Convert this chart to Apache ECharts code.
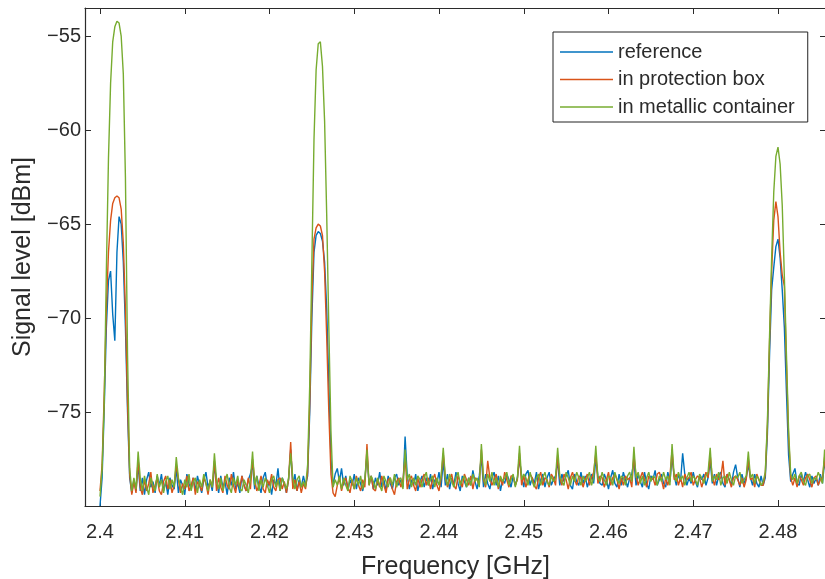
<!DOCTYPE html>
<html>
<head>
<meta charset="utf-8">
<script src="https://cdn.jsdelivr.net/npm/echarts@6/dist/echarts.min.js"></script>
<style>
  html, body { margin: 0; padding: 0; background: #ffffff; }
  #chart { width: 825px; height: 579px; }
</style>
</head>
<body>
<div id="chart"></div>
<script>
// Spectrum sweep: one level reading every 0.25 MHz starting at 2.4 GHz
const seriesNames = ['reference', 'in protection box', 'in metallic container'];
const freqStartGHz = 2.4;
const freqStepGHz = 0.00025;

const xTickValues = [2.40, 2.41, 2.42, 2.43, 2.44, 2.45, 2.46, 2.47, 2.48];
const yTickValues = [-75, -70, -65, -60, -55];

// Signal level [dBm], reference measurement
const reference = [
  -80.0,-78.5,-74.8,-70.5,-68.0,-67.5,-69.8,-71.2,-66.5,-64.6,-65.0,-67.0,-70.5,-75.0,-78.5,-79.3,-78.6,-79.2,
  -77.8,-79.2,-78.5,-79.4,-78.6,-78.2,-79.0,-78.7,-79.3,-78.4,-78.9,-78.3,-79.2,-78.7,-79.4,-78.5,-78.9,-79.1,
  -78.0,-79.3,-78.6,-78.9,-79.4,-78.3,-78.8,-79.1,-78.5,-79.2,-78.4,-78.9,-79.3,-78.6,-78.2,-79.0,-78.7,-79.2,
  -77.9,-78.6,-79.3,-78.4,-79.0,-78.7,-79.4,-78.5,-78.9,-78.2,-79.1,-78.8,-79.3,-78.4,-78.9,-79.2,-78.6,-78.3,
  -77.8,-79.1,-78.4,-78.9,-79.3,-78.5,-78.2,-79.0,-78.7,-79.4,-78.6,-78.9,-78.0,-79.2,-78.5,-78.8,-79.3,-78.6,
  -77.0,-78.9,-78.3,-79.2,-78.6,-79.0,-78.4,-78.9,-78.4,-75.0,-70.0,-66.5,-65.6,-65.4,-65.5,-65.9,-67.0,-69.5,
  -73.5,-77.5,-78.9,-78.3,-78.0,-78.7,-78.0,-78.9,-78.4,-79.2,-78.6,-78.9,-78.3,-79.1,-78.5,-78.8,-79.2,-78.6,
  -77.3,-78.8,-78.4,-79.1,-78.5,-78.9,-78.2,-79.0,-78.6,-79.2,-78.4,-78.8,-79.1,-78.5,-78.3,-78.9,-78.6,-79.0,
  -76.3,-78.4,-79.1,-78.6,-78.9,-78.3,-79.2,-78.7,-78.4,-79.0,-78.5,-78.9,-78.3,-79.1,-78.6,-78.8,-78.2,-79.0,
  -77.6,-78.9,-78.3,-79.1,-78.5,-78.9,-78.2,-78.8,-79.2,-78.4,-78.7,-79.0,-78.5,-78.9,-78.1,-78.7,-79.1,-78.4,
  -77.4,-79.0,-78.3,-78.8,-79.1,-78.5,-78.2,-78.9,-78.4,-79.2,-78.6,-78.8,-78.3,-78.6,-79.0,-78.4,-78.9,-78.5,
  -77.5,-78.4,-79.0,-78.3,-78.1,-78.9,-78.5,-78.8,-78.2,-79.1,-78.6,-78.3,-79.0,-78.5,-78.2,-78.9,-78.6,-78.4,
  -77.6,-78.9,-78.3,-78.7,-78.4,-78.1,-78.9,-79.1,-78.3,-78.7,-78.9,-78.2,-78.8,-78.4,-79.0,-78.6,-78.3,-78.8,
  -77.5,-78.4,-78.8,-78.9,-78.3,-78.6,-79.1,-78.5,-78.1,-78.8,-79.0,-78.3,-78.9,-78.2,-78.6,-79.0,-78.5,-78.3,
  -77.6,-78.9,-78.3,-78.7,-79.0,-78.2,-78.8,-79.1,-78.4,-78.6,-78.1,-78.9,-78.6,-78.3,-78.8,-79.0,-78.2,-78.7,
  -77.4,-78.4,-78.9,-78.3,-78.7,-77.2,-78.3,-78.9,-78.5,-78.8,-78.2,-78.7,-79.0,-78.4,-78.6,-78.3,-78.9,-78.5,
  -77.6,-78.8,-78.3,-78.9,-78.4,-78.2,-78.8,-79.0,-78.3,-78.6,-78.9,-78.2,-77.8,-78.5,-79.0,-78.3,-78.8,-78.5,
  -77.8,-78.5,-78.9,-78.3,-78.8,-79.0,-78.4,-78.9,-78.5,-76.2,-72.0,-68.5,-67.3,-66.2,-65.8,-66.8,-68.5,-70.5,
  -74.0,-77.3,-78.7,-78.3,-78.0,-78.8,-78.9,-78.3,-78.7,-78.2,-78.6,-79.0,-78.4,-78.8,-78.5,-78.9,-78.3,-78.8,
  -77.6,-78.5
];

// Signal level [dBm], device inside the protection box
const protectionBox = [
  -79.2,-77.8,-74.0,-69.5,-66.5,-64.8,-63.9,-63.6,-63.5,-63.6,-64.2,-66.0,-69.5,-74.5,-78.3,-79.4,-78.7,-79.3,
  -77.5,-79.0,-79.4,-78.6,-79.2,-78.8,-78.2,-79.3,-78.9,-78.5,-79.2,-79.4,-78.7,-78.4,-79.1,-78.6,-79.3,-78.9,
  -77.8,-78.6,-79.3,-78.8,-79.1,-78.4,-79.2,-78.9,-78.5,-79.4,-78.7,-78.9,-79.2,-78.5,-78.8,-79.4,-78.6,-79.0,
  -77.6,-79.2,-78.5,-79.0,-79.3,-78.4,-78.9,-79.1,-78.3,-78.9,-79.3,-78.6,-79.0,-78.4,-78.9,-79.2,-78.5,-79.1,
  -77.5,-78.6,-79.2,-78.9,-78.4,-79.1,-79.3,-78.6,-78.9,-78.3,-79.0,-79.2,-78.6,-78.5,-79.1,-78.7,-79.3,-78.6,
  -76.6,-79.1,-78.6,-79.2,-78.7,-79.3,-78.8,-79.1,-78.2,-74.5,-69.0,-65.8,-65.2,-65.0,-65.1,-65.6,-67.5,-71.0,
  -75.0,-78.3,-79.3,-79.5,-78.9,-78.5,-79.2,-78.7,-78.5,-79.0,-79.3,-78.6,-79.1,-78.4,-78.9,-79.2,-78.6,-79.0,
  -76.7,-78.9,-78.4,-79.1,-79.2,-78.6,-79.0,-78.4,-78.9,-79.3,-78.6,-78.5,-79.1,-79.4,-78.7,-78.5,-79.0,-78.6,
  -77.4,-79.1,-78.6,-78.4,-78.9,-79.2,-78.5,-79.0,-78.6,-78.3,-78.9,-78.5,-79.1,-78.6,-78.3,-78.9,-79.2,-78.5,
  -77.2,-78.5,-79.0,-78.6,-78.3,-78.9,-79.1,-78.4,-78.7,-79.0,-78.3,-78.6,-78.9,-78.4,-79.1,-78.5,-78.6,-78.9,
  -77.0,-78.6,-79.0,-77.6,-78.5,-78.9,-78.6,-78.3,-79.1,-78.5,-78.9,-78.2,-78.6,-79.0,-78.4,-78.4,-78.9,-78.6,
  -77.2,-78.9,-78.4,-79.0,-78.6,-78.3,-78.5,-78.9,-79.1,-78.5,-78.2,-78.9,-78.5,-78.6,-79.0,-78.3,-78.5,-78.9,
  -77.3,-78.5,-78.9,-78.3,-78.6,-79.1,-78.5,-78.2,-78.6,-78.9,-78.4,-78.5,-79.0,-78.6,-78.3,-78.9,-78.5,-78.2,
  -77.2,-78.8,-78.4,-78.5,-79.0,-78.6,-78.2,-78.9,-78.5,-78.3,-78.6,-79.1,-78.5,-78.9,-78.4,-78.6,-78.5,-79.0,
  -77.3,-78.4,-78.9,-78.5,-78.2,-78.6,-79.0,-78.4,-78.6,-78.5,-78.9,-78.3,-78.2,-78.6,-79.1,-78.5,-78.9,-78.4,
  -77.0,-78.6,-78.3,-78.9,-78.5,-79.0,-78.3,-78.6,-78.5,-78.2,-78.9,-78.6,-78.4,-78.5,-79.0,-78.6,-78.2,-78.5,
  -77.3,-78.5,-78.9,-78.3,-78.6,-78.5,-77.6,-78.9,-78.3,-78.6,-79.0,-78.5,-78.4,-78.6,-78.9,-78.5,-79.0,-78.6,
  -77.5,-78.6,-78.5,-79.0,-78.3,-78.6,-78.9,-78.9,-78.3,-75.8,-71.3,-67.5,-64.8,-63.8,-64.6,-66.5,-67.7,-68.3,
  -72.5,-76.3,-78.5,-78.9,-78.5,-79.0,-78.4,-78.6,-78.9,-78.5,-78.3,-78.6,-79.0,-78.5,-78.4,-78.9,-78.6,-78.5,
  -77.4,-78.8
];

// Signal level [dBm], device inside the metallic container
const metallicContainer = [
  -79.5,-78.0,-74.5,-67.5,-61.5,-57.5,-55.3,-54.5,-54.2,-54.3,-55.0,-57.0,-62.5,-72.0,-78.0,-79.2,-78.5,-79.1,
  -77.1,-78.5,-79.2,-78.4,-79.0,-79.4,-78.5,-78.9,-79.2,-78.3,-79.0,-78.6,-79.3,-78.7,-78.4,-79.1,-78.6,-79.0,
  -77.4,-78.5,-79.0,-79.4,-78.6,-79.0,-78.3,-79.2,-78.7,-78.5,-79.3,-78.6,-79.0,-78.3,-78.8,-79.2,-78.6,-79.0,
  -77.2,-78.6,-79.1,-78.5,-79.2,-78.7,-78.3,-79.0,-79.3,-78.5,-78.9,-78.4,-79.1,-79.2,-78.6,-78.9,-79.3,-78.6,
  -77.1,-78.9,-78.4,-79.2,-78.6,-79.0,-78.5,-78.9,-79.3,-78.6,-78.4,-79.0,-78.6,-79.2,-78.5,-78.8,-79.1,-78.5,
  -77.2,-78.5,-79.1,-78.6,-78.4,-79.0,-78.7,-79.0,-77.8,-73.5,-67.0,-60.5,-56.8,-55.4,-55.3,-56.6,-59.5,-64.5,
  -70.5,-76.0,-79.0,-78.6,-78.9,-78.4,-79.1,-78.5,-78.9,-79.2,-78.4,-78.7,-79.1,-78.5,-78.9,-78.4,-79.1,-78.6,
  -77.0,-78.9,-78.4,-78.7,-79.1,-78.5,-78.9,-79.2,-78.4,-78.7,-79.0,-78.5,-78.9,-78.3,-79.0,-78.6,-78.5,-79.1,
  -77.0,-78.6,-78.3,-79.0,-78.5,-78.9,-78.4,-78.6,-79.0,-78.5,-78.2,-78.9,-78.6,-78.4,-79.0,-78.5,-78.9,-78.4,
  -76.9,-78.5,-78.9,-78.3,-78.7,-79.0,-78.5,-78.2,-78.9,-78.6,-78.4,-79.0,-78.5,-78.9,-78.3,-78.7,-78.5,-79.0,
  -76.7,-78.5,-78.9,-78.3,-78.7,-78.2,-78.9,-78.5,-79.0,-78.4,-78.7,-78.5,-78.2,-78.9,-78.6,-78.3,-79.0,-78.5,
  -76.8,-78.6,-78.3,-78.5,-78.9,-78.2,-78.7,-79.0,-78.5,-78.3,-78.9,-78.5,-78.2,-78.7,-78.9,-78.4,-78.7,-78.5,
  -76.9,-78.4,-78.7,-78.9,-78.2,-78.5,-78.9,-78.4,-78.7,-78.2,-78.5,-78.9,-78.4,-78.7,-78.5,-78.2,-78.9,-78.5,
  -76.8,-78.5,-78.7,-78.2,-78.6,-78.9,-78.4,-78.5,-78.9,-78.2,-78.6,-78.8,-78.4,-78.5,-78.9,-78.4,-78.2,-78.7,
  -76.85,-78.5,-78.2,-78.8,-78.4,-78.9,-78.5,-78.2,-78.7,-78.4,-78.5,-78.9,-78.4,-78.7,-78.2,-78.6,-78.4,-78.9,
  -76.7,-78.4,-78.7,-78.2,-78.6,-78.4,-78.9,-78.5,-78.2,-78.7,-78.4,-78.6,-78.9,-78.3,-78.5,-78.8,-78.4,-78.2,
  -76.9,-78.7,-78.4,-78.6,-78.2,-78.9,-78.5,-78.4,-78.8,-78.2,-78.6,-78.9,-78.4,-78.5,-78.2,-78.8,-78.6,-78.4,
  -77.1,-78.5,-78.3,-78.8,-78.4,-78.6,-78.9,-78.7,-78.2,-75.5,-71.0,-66.8,-63.3,-61.4,-60.9,-61.8,-64.0,-67.8,
  -72.0,-76.0,-78.3,-78.6,-78.3,-78.8,-78.4,-78.2,-78.7,-78.9,-78.4,-78.3,-78.8,-78.5,-78.6,-78.2,-78.5,-78.8,
  -77.0,-78.4
];

const seriesColors = ['#0072BD', '#D95319', '#77AC30'];
const levels = [reference, protectionBox, metallicContainer];

const freqAt = i => +(freqStartGHz + i * freqStepGHz).toFixed(5);
const toPairs = arr => arr.map((v, i) => [freqAt(i), v]);

const FONT = "'Liberation Sans', Arial, Helvetica, sans-serif";
const INK = '#2b2b2b';

const chart = echarts.init(document.getElementById('chart'), null, { renderer: 'canvas' });

const plotLeft = 85, plotTop = 8, plotWidth = 741, plotHeight = 498;
const pxPerGHz = 8475;
const xMin = 2.4 - (100 - plotLeft) / pxPerGHz;
const xMax = xMin + plotWidth / pxPerGHz;

const tickStyle = { show: true, inside: true, length: 6, lineStyle: { color: INK, width: 1 } };

chart.setOption({
  animation: false,
  backgroundColor: '#ffffff',
  grid: {
    left: plotLeft, top: plotTop, width: plotWidth, height: plotHeight,
    containLabel: false, outerBoundsMode: 'none'
  },
  legend: {
    orient: 'vertical',
    left: 553,
    top: 32,
    data: seriesNames,
    icon: 'rect',
    itemWidth: 53,
    itemHeight: 1.5,
    itemGap: 7.5,
    padding: [10, 13, 5, 7],
    backgroundColor: '#ffffff',
    borderColor: '#222222',
    borderWidth: 1,
    borderRadius: 0,
    textStyle: { fontFamily: FONT, fontSize: 20, color: INK, padding: [0, 0, 0, 0] }
  },
  xAxis: [
    {
      type: 'value', position: 'bottom', min: xMin, max: xMax,
      name: 'Frequency [GHz]', nameLocation: 'middle', nameGap: 49,
      nameTextStyle: { fontFamily: FONT, fontSize: 25, color: INK },
      axisLine: { show: true, lineStyle: { color: INK, width: 1.2 } },
      axisTick: Object.assign({ customValues: xTickValues }, tickStyle),
      axisLabel: {
        customValues: xTickValues, margin: 16,
        fontFamily: FONT, fontSize: 20, color: INK,
        formatter: v => String(+(+v).toFixed(2))
      },
      splitLine: { show: false }
    },
    {
      type: 'value', position: 'top', min: xMin, max: xMax,
      axisLine: { show: true, lineStyle: { color: INK, width: 1.2 } },
      axisTick: Object.assign({ customValues: xTickValues }, tickStyle),
      axisLabel: { show: false },
      splitLine: { show: false }
    }
  ],
  yAxis: [
    {
      type: 'value', position: 'left', min: -80, max: -53.5,
      name: 'Signal level [dBm]', nameLocation: 'middle', nameGap: 49,
      nameTextStyle: { fontFamily: FONT, fontSize: 25, color: INK },
      axisLine: { show: true, lineStyle: { color: INK, width: 1.2 } },
      axisTick: Object.assign({ customValues: yTickValues }, tickStyle),
      axisLabel: {
        customValues: yTickValues, margin: 4,
        fontFamily: FONT, fontSize: 20, color: INK,
        formatter: v => (v < 0 ? '\u2212' : '') + Math.abs(v)
      },
      splitLine: { show: false }
    },
    {
      type: 'value', position: 'right', min: -80, max: -53.5,
      axisLine: { show: true, lineStyle: { color: INK, width: 1.2 } },
      axisTick: Object.assign({ customValues: yTickValues }, tickStyle),
      axisLabel: { show: false },
      splitLine: { show: false }
    }
  ],
  series: seriesNames.map((name, k) => ({
    name: name,
    type: 'line',
    xAxisIndex: 0,
    yAxisIndex: 0,
    data: toPairs(levels[k]),
    symbol: 'none',
    showSymbol: false,
    clip: true,
    color: seriesColors[k],
    lineStyle: { color: seriesColors[k], width: 1.4 },
    emphasis: { disabled: true },
    z: 2 + k
  }))
});
</script>
</body>
</html>
